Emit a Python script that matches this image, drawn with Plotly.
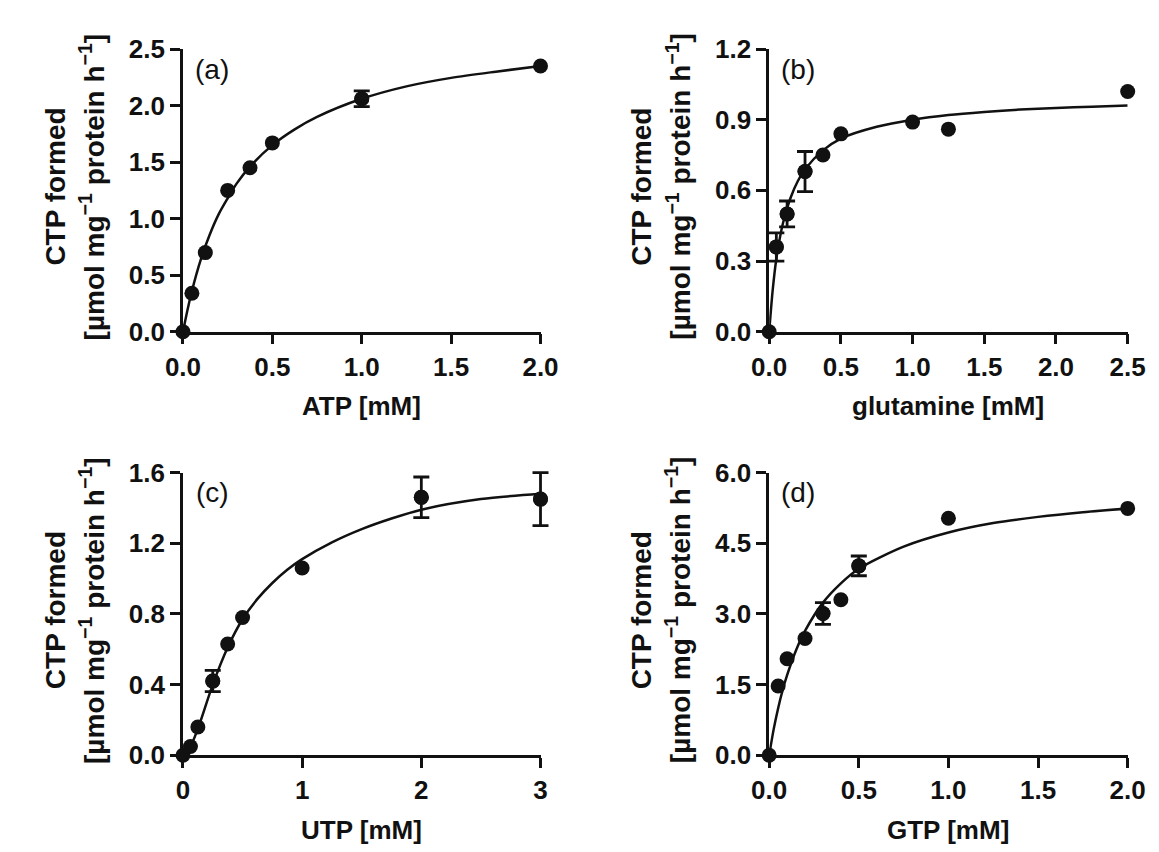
import plotly.graph_objects as go

W, H = 1159, 852

# ---------------- data ----------------
# (a) ATP
atp_x = [0, 0.05, 0.125, 0.25, 0.375, 0.5, 1.0, 2.0]
atp_y = [0, 0.34, 0.70, 1.25, 1.45, 1.67, 2.06, 2.35]
atp_err = [None, None, None, None, None, None, 0.07, None]
atp_fit_x = [0, 0.025, 0.05, 0.1, 0.15, 0.2, 0.25, 0.3, 0.375, 0.5, 0.625, 0.75, 1.0, 1.25, 1.5, 1.75, 2.0]
atp_fit_y = [0, 0.19, 0.36, 0.64, 0.86, 1.04, 1.18, 1.31, 1.46, 1.65, 1.79, 1.90, 2.06, 2.17, 2.245, 2.30, 2.35]

# (b) glutamine
gln_x = [0, 0.05, 0.125, 0.25, 0.375, 0.5, 1.0, 1.25, 2.5]
gln_y = [0, 0.36, 0.50, 0.68, 0.75, 0.84, 0.89, 0.86, 1.02]
gln_err = [None, 0.06, 0.055, 0.085, None, None, None, None, None]
gln_fit_x = [0, 0.025, 0.05, 0.075, 0.1, 0.15, 0.2, 0.25, 0.375, 0.5, 0.75, 1.0, 1.25, 1.5, 1.75, 2.0, 2.25, 2.5]
gln_fit_y = [0, 0.18, 0.31, 0.40, 0.47, 0.57, 0.64, 0.69, 0.77, 0.82, 0.87, 0.90, 0.92, 0.933, 0.943, 0.95, 0.955, 0.96]

# (c) UTP
utp_x = [0, 0.0625, 0.125, 0.25, 0.375, 0.5, 1.0, 2.0, 3.0]
utp_y = [0, 0.05, 0.16, 0.42, 0.63, 0.78, 1.06, 1.46, 1.45]
utp_err = [None, None, None, 0.06, None, None, None, 0.115, 0.15]
utp_fit_x = [0, 0.0625, 0.125, 0.25, 0.375, 0.5, 0.625, 0.75, 0.875, 1.0, 1.25, 1.5, 1.75, 2.0, 2.5, 3.0]
utp_fit_y = [0, 0.05, 0.15, 0.40, 0.61, 0.77, 0.885, 0.975, 1.05, 1.11, 1.205, 1.28, 1.34, 1.39, 1.45, 1.48]

# (d) GTP
gtp_x = [0, 0.05, 0.1, 0.2, 0.3, 0.4, 0.5, 1.0, 2.0]
gtp_y = [0, 1.47, 2.05, 2.48, 3.01, 3.30, 4.02, 5.03, 5.24]
gtp_err = [None, None, None, None, 0.23, None, 0.21, None, None]
gtp_fit_x = [0, 0.025, 0.05, 0.075, 0.1, 0.15, 0.2, 0.3, 0.4, 0.5, 0.75, 1.0, 1.25, 1.5, 1.75, 2.0]
gtp_fit_y = [0, 0.55, 1.0, 1.38, 1.70, 2.23, 2.64, 3.24, 3.65, 3.96, 4.43, 4.73, 4.93, 5.06, 5.16, 5.24]

panel_labels = ["(a)", "(b)", "(c)", "(d)"]
x_titles = ["ATP [mM]", "glutamine [mM]", "UTP [mM]", "GTP [mM]"]
y_title_1 = "CTP formed"
y_title_2 = "[µmol mg<sup>−1</sup> protein h<sup>−1</sup>]"

x_ranges = [[0, 2.0], [0, 2.5], [0, 3.0], [0, 2.0]]
x_dticks = [0.5, 0.5, 1, 0.5]
x_formats = [".1f", ".1f", "d", ".1f"]
y_ranges = [[0, 2.5], [0, 1.2], [0, 1.6], [0, 6.0]]
y_dticks = [0.5, 0.3, 0.4, 1.5]

# ---------------- layout geometry (pixels) ----------------
# plot boxes: left, right, top, bottom
boxes = [(162, 531, 27, 320), (767, 1137, 27, 320),
         (162, 531, 466, 759), (767, 1137, 466, 759)]
PAD = 16  # extra room so error bars at the edges are not clipped

FONT = "Liberation Sans, Arial, Helvetica, sans-serif"
TICK_SIZE = 26
TITLE_SIZE = 26
YTITLE_SIZE = 28
BLACK = "#111111"
MSIZE = 15

datasets = [
    (atp_x, atp_y, atp_err, atp_fit_x, atp_fit_y),
    (gln_x, gln_y, gln_err, gln_fit_x, gln_fit_y),
    (utp_x, utp_y, utp_err, utp_fit_x, utp_fit_y),
    (gtp_x, gtp_y, gtp_err, gtp_fit_x, gtp_fit_y),
]

fig = go.Figure()
layout = dict(
    width=W, height=H,
    margin=dict(l=0, r=0, t=0, b=0),
    paper_bgcolor="white", plot_bgcolor="rgba(0,0,0,0)",
    showlegend=False,
)
annotations = []

for i, (px, py, perr, fx, fy) in enumerate(datasets):
    n = "" if i == 0 else str(i + 1)
    xa, ya = "x" + n, "y" + n
    m = str(i + 5)
    xe, ye = "x" + m, "y" + m
    L, R, T, B = boxes[i]

    # fitted curve
    fig.add_trace(go.Scatter(
        x=fx, y=fy, mode="lines", xaxis=xa, yaxis=ya,
        line=dict(color=BLACK, width=2.5, shape="spline", smoothing=0.8),
        hoverinfo="skip", cliponaxis=False,
    ))
    # data points
    fig.add_trace(go.Scatter(
        x=px, y=py, mode="markers", xaxis=xa, yaxis=ya,
        marker=dict(size=MSIZE, color=BLACK),
        cliponaxis=False,
    ))
    # error bars (only points that have them), on an invisible, slightly larger
    # subplot with the same data->pixel scale so they are not clipped
    idx = [k for k, e in enumerate(perr) if e is not None]
    if idx:
        fig.add_trace(go.Scatter(
            x=[px[k] for k in idx], y=[py[k] for k in idx], mode="markers",
            xaxis=xe, yaxis=ye,
            marker=dict(size=MSIZE, color=BLACK),
            error_y=dict(type="data", array=[perr[k] for k in idx], symmetric=True,
                         color=BLACK, thickness=2.8, width=8),
            cliponaxis=False,
        ))

    common = dict(
        showline=True, linewidth=2.5, linecolor=BLACK,
        ticks="outside", ticklen=10, tickwidth=2.5, tickcolor=BLACK,
        showgrid=False, zeroline=False, fixedrange=True, tick0=0,
        tickfont=dict(family=FONT, size=TICK_SIZE, color=BLACK, weight="bold"),
    )
    layout["xaxis" + n] = dict(
        domain=[L / W, R / W], range=x_ranges[i], dtick=x_dticks[i],
        tickformat=x_formats[i], anchor=ya, **common)
    layout["yaxis" + n] = dict(
        domain=[1 - B / H, 1 - T / H], range=y_ranges[i], dtick=y_dticks[i],
        tickformat=".1f", anchor=xa, **common)

    # invisible axes for error bars (same scale, padded domain)
    x0, x1 = x_ranges[i]
    y0, y1 = y_ranges[i]
    dxp = PAD * (x1 - x0) / (R - L)
    dyp = PAD * (y1 - y0) / (B - T)
    layout["xaxis" + m] = dict(
        domain=[(L - PAD) / W, (R + PAD) / W], range=[x0 - dxp, x1 + dxp],
        visible=False, showgrid=False, zeroline=False, anchor=ye, fixedrange=True)
    layout["yaxis" + m] = dict(
        domain=[1 - (B + PAD) / H, 1 - (T - PAD) / H], range=[y0 - dyp, y1 + dyp],
        visible=False, showgrid=False, zeroline=False, anchor=xe, fixedrange=True)

    cy = (T + B) / 2 - 4
    # y title, two lines
    annotations.append(dict(
        text=y_title_1, xref="paper", yref="paper", x=(L - 132) / W, y=1 - cy / H,
        xanchor="center", yanchor="middle", textangle=-90, showarrow=False,
        font=dict(family=FONT, size=YTITLE_SIZE, color=BLACK, weight="bold")))
    annotations.append(dict(
        text=y_title_2, xref="paper", yref="paper", x=(L - 94) / W, y=1 - cy / H,
        xanchor="center", yanchor="middle", textangle=-90, showarrow=False,
        font=dict(family=FONT, size=YTITLE_SIZE, color=BLACK, weight="bold")))
    # x title
    annotations.append(dict(
        text=x_titles[i], xref="paper", yref="paper", x=((L + R) / 2) / W,
        y=1 - (B + 77) / H, xanchor="center", yanchor="middle", showarrow=False,
        font=dict(family=FONT, size=TITLE_SIZE, color=BLACK, weight="bold")))
    # panel label
    annotations.append(dict(
        text=panel_labels[i], xref="paper", yref="paper", x=(L + 30) / W,
        y=1 - (T + 21) / H, xanchor="center", yanchor="middle", showarrow=False,
        font=dict(family=FONT, size=28, color=BLACK)))

layout["annotations"] = annotations
fig.update_layout(**layout)
fig.write_html("out.html")
